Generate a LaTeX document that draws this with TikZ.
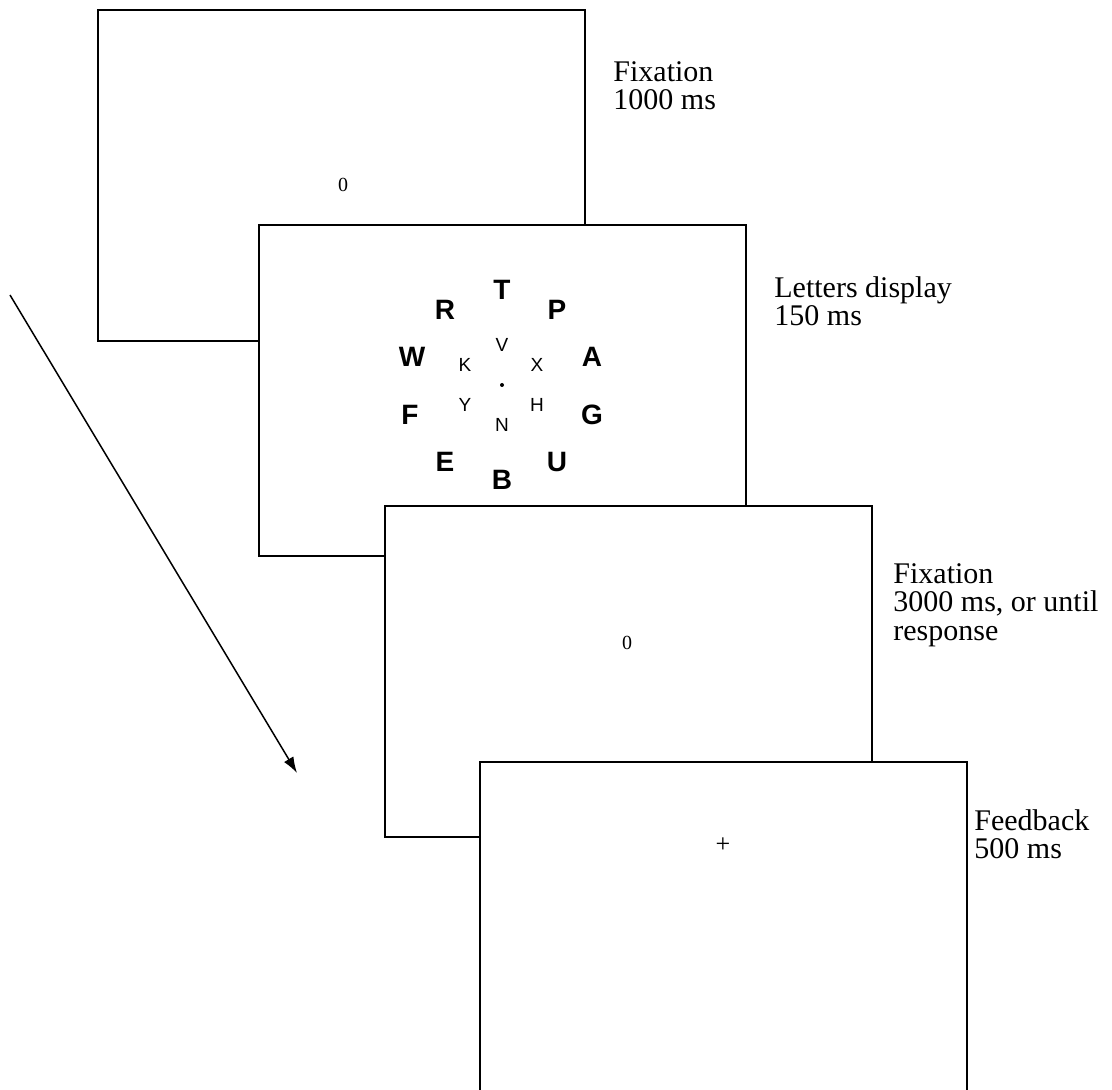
\documentclass[tikz,border=0pt]{standalone}
\usepackage{fontspec}
\setmainfont{Liberation Serif}
\newfontfamily\letterfont{Liberation Sans}
\usetikzlibrary{positioning, arrows.meta}

\begin{document}
\begin{tikzpicture}[x=0.5pt, y=-0.5pt,
                     screen/.style={draw,
                         fill=white,
                         line width=1pt,
                         anchor=north west,
                         inner sep=0pt,
                         minimum width=243.5pt,
                         minimum height=165.5pt},
                     lbl/.style={anchor=north west,
                         inner sep=0pt,
                         align=left,
                         font=\fontsize{15}{14.2}\selectfont},
                     big/.style={font=\letterfont\bfseries\fontsize{14}{14}\selectfont,
                         inner sep=0pt},
                     small/.style={font=\letterfont\fontsize{9.5}{9.5}\selectfont,
                         inner sep=0pt},
                     mark0/.style={font=\fontsize{10}{10}\selectfont, inner sep=0pt}]
    \clip (0,0) rectangle (1112,1090);
    % time arrow
    \coordinate (t0) at (10,295);
    \coordinate (t1) at (297,773);
    \draw[line width=0.75pt, -{Latex[length=8pt, width=5.5pt]}] (t0) -- (t1);
    % screens
    \node[screen](s1) at (97,9) {};
    \node[mark0] (z1) at (343,185) {0};
    \node[screen](s2) at (258,224) {};
    \node[screen](s3) at (384,505) {};
    \node[mark0] (z3) at (627,643) {0};
    \node[screen, minimum height=175pt](s4) at (479,761) {};
    \node[font=\fontsize{13}{13}\selectfont, inner sep=0pt] (plus) at (723,845) {+};
    % letters display
    \fill (502,385) circle (2) coordinate (fix);
    \foreach \l / \dx / \dy in {T/0/-95, R/-57/-75, P/55/-75, W/-90/-28, A/90/-28,
                                F/-92/30, G/90/30, E/-57/77, U/55/77, B/0/95}
        \node[big] (l-\l) at ([shift={(\dx,\dy)}]fix) {\l};
    \foreach \l / \dx / \dy in {V/0/-40, K/-37/-20, X/35/-20, Y/-37/20, H/35/20, N/0/40}
        \node[small] (l-\l) at ([shift={(\dx,\dy)}]fix) {\l};
    % labels
    \node[lbl, below right=26pt and 13.5pt of s1.north east](d1) {Fixation\\1000 ms};
    \node[lbl, below right=26pt and 13.5pt of s2.north east](d2) {Letters display\\150 ms};
    \node[lbl, below right=29pt and 10pt of s3.north east](d3) {Fixation\\3000 ms, or until\\response};
    \node[lbl, below right=24pt and 3pt of s4.north east](d4) {Feedback\\500 ms};
\end{tikzpicture}
\end{document}
